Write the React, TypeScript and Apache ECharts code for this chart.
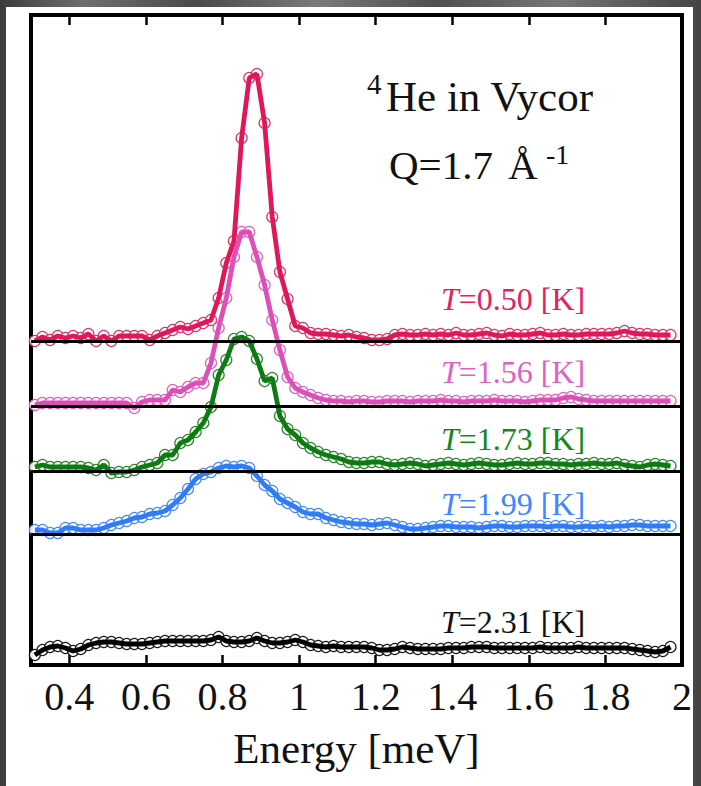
import React, { useEffect, useRef } from "react";
import * as echarts from "echarts";

// Energy transfer grid [meV]
const energy = [
  0.31, 0.33, 0.35, 0.37, 0.39, 0.41, 0.43, 0.45, 0.47, 0.49,
  0.51, 0.53, 0.55, 0.57, 0.59, 0.61, 0.63, 0.65, 0.67, 0.69,
  0.71, 0.73, 0.75, 0.77, 0.79, 0.81, 0.83, 0.85, 0.87, 0.89,
  0.91, 0.93, 0.95, 0.97, 0.99, 1.01, 1.03, 1.05, 1.07, 1.09,
  1.11, 1.13, 1.15, 1.17, 1.19, 1.21, 1.23, 1.25, 1.27, 1.29,
  1.31, 1.33, 1.35, 1.37, 1.39, 1.41, 1.43, 1.45, 1.47, 1.49,
  1.51, 1.53, 1.55, 1.57, 1.59, 1.61, 1.63, 1.65, 1.67, 1.69,
  1.71, 1.73, 1.75, 1.77, 1.79, 1.81, 1.83, 1.85, 1.87, 1.89,
  1.91, 1.93, 1.95, 1.97,
];

const energyTicks = [0.4, 0.6, 0.8, 1.0, 1.2, 1.4, 1.6, 1.8, 2.0];

const temperatures = ["0.50", "1.56", "1.73", "1.99", "2.31"];

// vertical offset of each spectrum (arb. units)
const offsets = [324, 259, 194, 131, 4];

// S(Q,E) intensity above each offset (arb. units)
const intensityT050 = [
  0, 4, 1, 5, 3, 5, 3, 7, 0, 5,
  0, 5, 5, 5, 5, 1, 5, 8, 11, 14,
  12, 15, 18, 21, 43, 78, 100, 203, 263, 267,
  218, 124, 69, 42, 15, 13, 8, 7, 7, 6,
  5, 6, 4, 3, 1, 1, 2, 6, 7, 6,
  6, 7, 6, 7, 6, 8, 6, 6, 7, 8,
  6, 5, 7, 6, 6, 7, 8, 6, 6, 7,
  6, 6, 7, 7, 7, 7, 8, 10, 8, 7,
  7, 6, 6, 6,
];

const intensityT156 = [
  1, 3, 3, 3, 3, 3, 3, 3, 3, 3,
  3, 3, 3, -2, 4, 6, 6, 6, 16, 14,
  19, 23, 23, 43, 78, 108, 149, 174, 174, 149,
  121, 86, 56, 29, 18, 14, 11, 8, 6, 5,
  5, 4, 5, 5, 4, 4, 5, 5, 5, 4,
  5, 5, 5, 6, 5, 5, 4, 5, 5, 5,
  6, 5, 5, 5, 4, 5, 6, 6, 6, 8,
  9, 7, 6, 5, 5, 5, 5, 5, 5, 5,
  5, 5, 5, 5,
];

const intensityT173 = [
  4, 6, 4, 4, 4, 4, 4, 3, 1, 6,
  -2, -1, -1, 1, 4, 6, 8, 16, 16, 28,
  31, 39, 48, 64, 96, 111, 132, 134, 130, 112,
  90, 93, 55, 42, 36, 28, 23, 19, 16, 14,
  12, 9, 8, 8, 9, 9, 7, 6, 7, 8,
  7, 5, 6, 7, 8, 7, 6, 7, 8, 7,
  6, 6, 7, 8, 7, 7, 8, 8, 7, 7,
  6, 7, 7, 8, 7, 7, 8, 6, 5, 4,
  6, 7, 6, 5,
];

const intensityT199 = [
  4, 4, 1, 1, 6, 6, 4, 4, 4, 6,
  9, 11, 13, 16, 17, 20, 21, 23, 29, 36,
  45, 55, 60, 62, 66, 68, 67, 68, 66, 58,
  49, 43, 35, 31, 27, 22, 20, 20, 16, 14,
  12, 11, 10, 10, 9, 10, 11, 9, 7, 5,
  5, 6, 7, 8, 8, 7, 7, 7, 6, 7,
  8, 8, 7, 7, 8, 8, 8, 7, 8, 8,
  7, 7, 8, 7, 8, 7, 8, 8, 9, 9,
  8, 8, 8, 8,
];

const intensityT231 = [
  6, 11, 14, 15, 13, 10, 12, 16, 18, 19,
  19, 18, 17, 17, 17, 18, 19, 20, 20, 20,
  20, 20, 20, 21, 24, 20, 19, 19, 20, 23,
  20, 18, 18, 19, 21, 19, 16, 15, 14, 15,
  14, 14, 14, 14, 13, 11, 11, 12, 14, 13,
  12, 12, 12, 12, 13, 13, 13, 14, 14, 14,
  13, 13, 13, 13, 13, 13, 14, 13, 13, 13,
  13, 14, 13, 13, 13, 13, 13, 13, 12, 11,
  10, 9, 10, 14,
];

const intensities = [intensityT050, intensityT156, intensityT173, intensityT199, intensityT231];

const lineColors = ["#e0185a", "#dc4fb8", "#0e7a12", "#2f7cf6", "#000000"];
const labelColors = ["#e3215f", "#e060c4", "#128a18", "#3d86ff", "#111111"];
// label centre heights for the temperature captions (px)
const labelY = [299, 372, 439, 504, 622];

const SERIF = "Liberation Serif";

export default function App() {
  const ref = useRef<HTMLDivElement>(null);

  useEffect(() => {
    if (!ref.current) return;
    const chart = echarts.init(ref.current, null, { renderer: "svg" });

    const series: any[] = [];
    intensities.forEach((vals, i) => {
      const data = energy.map((e, k) => [e, offsets[i] + vals[k]]);
      const scatter: any = {
        type: "scatter",
        name: `T=${temperatures[i]} K points`,
        data,
        symbol: "circle",
        symbolSize: 11,
        silent: true,
        z: 2,
        itemStyle: { color: "#ffffff", borderColor: lineColors[i], borderWidth: 1.2, opacity: 0.9 },
      };
      if (i < 4) {
        scatter.markLine = {
          silent: true,
          symbol: "none",
          label: { show: false },
          lineStyle: { color: "#000", width: 3, type: "solid" },
          data: [{ yAxis: offsets[i] }],
        };
      }
      series.push(scatter);
      series.push({
        type: "line",
        name: `T=${temperatures[i]} K`,
        data,
        showSymbol: false,
        silent: true,
        z: 3,
        lineStyle: { color: lineColors[i], width: 4.8 },
      });
    });

    const tLabels = temperatures.map((t, i) => ({
      type: "text",
      x: 441,
      y: labelY[i],
      style: {
        text: `{i|T}{n|=${t} [K]}`,
        verticalAlign: "middle",
        align: "left",
        rich: {
          i: { fontFamily: SERIF, fontSize: 32, fontStyle: "italic", fill: labelColors[i] },
          n: { fontFamily: SERIF, fontSize: 32, fill: labelColors[i] },
        },
      },
    }));

    chart.setOption({
      animation: false,
      textStyle: { fontFamily: SERIF },
      grid: {
        left: 31,
        right: 19,
        top: 15,
        bottom: 121,
        show: true,
        borderColor: "#000",
        borderWidth: 4,
        backgroundColor: "transparent",
      },
      xAxis: [
        {
          type: "value",
          min: 0.3,
          max: 2.0,
          position: "bottom",
          name: "Energy [meV]",
          nameLocation: "middle",
          nameGap: 62,
          nameTextStyle: { fontFamily: SERIF, fontSize: 43, color: "#111" },
          axisLine: { show: false },
          splitLine: { show: false },
          axisTick: {
            inside: true,
            length: 10,
            customValues: energyTicks,
            lineStyle: { color: "#000", width: 2.5 },
          },
          axisLabel: {
            customValues: energyTicks,
            margin: 11,
            fontFamily: SERIF,
            fontSize: 40,
            color: "#111",
            formatter: (v: number) => String(Number(v.toFixed(1))),
          },
        },
        {
          type: "value",
          min: 0.3,
          max: 2.0,
          position: "top",
          axisLine: { show: false },
          splitLine: { show: false },
          axisTick: {
            inside: true,
            length: 10,
            customValues: energyTicks,
            lineStyle: { color: "#000", width: 2.5 },
          },
          axisLabel: { show: false },
        },
      ],
      yAxis: {
        type: "value",
        min: 0,
        max: 650,
        show: false,
        splitLine: { show: false },
      },
      graphic: [
        {
          type: "text",
          x: 367,
          y: 84,
          style: { text: "4", fontFamily: SERIF, fontSize: 29, fill: "#111", verticalAlign: "middle" },
        },
        {
          type: "text",
          x: 386,
          y: 96,
          style: { text: "He in Vycor", fontFamily: SERIF, fontSize: 43, fill: "#111", verticalAlign: "middle" },
        },
        {
          type: "text",
          x: 389,
          y: 165,
          style: { text: "Q=1.7", fontFamily: SERIF, fontSize: 41, fill: "#111", verticalAlign: "middle" },
        },
        {
          type: "text",
          x: 508,
          y: 165,
          style: { text: "Å", fontFamily: SERIF, fontSize: 41, fill: "#111", verticalAlign: "middle" },
        },
        {
          type: "text",
          x: 546,
          y: 154,
          style: { text: "-1", fontFamily: SERIF, fontSize: 28, fill: "#111", verticalAlign: "middle" },
        },
        ...tLabels,
      ],
      series,
    });

    return () => chart.dispose();
  }, []);

  return (
    <div
      style={{
        position: "absolute",
        left: 0,
        top: 0,
        width: 701,
        height: 786,
        overflow: "hidden",
        background:
          "linear-gradient(90deg, #3c3c3c 0%, #6f6f6f 12%, #4a4a4a 28%, #7a7a7a 45%, #505050 62%, #767676 80%, #444 100%)",
      }}
    >
      <div style={{ position: "absolute", left: 6, top: 7, width: 687, height: 779, background: "#ffffff" }} />
      <div ref={ref} style={{ position: "absolute", left: 0, top: 0, width: 701, height: 786 }} />
    </div>
  );
}
